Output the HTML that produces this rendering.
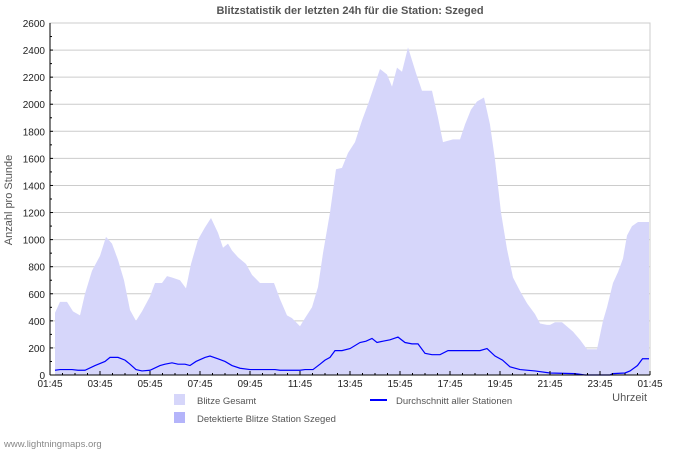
<!DOCTYPE html>
<html><head><meta charset="utf-8"><style>
body{margin:0;background:#fff;}
svg{display:block;font-family:"Liberation Sans","DejaVu Sans",sans-serif;}
</style></head><body>
<svg id="c" width="700" height="450">
<text x="350" y="14" text-anchor="middle" font-size="11" font-weight="bold" fill="#555">Blitzstatistik der letzten 24h für die Station: Szeged</text>
<text transform="translate(12,200) rotate(-90)" text-anchor="middle" font-size="11" fill="#555">Anzahl pro Stunde</text>
<text x="647" y="401" text-anchor="end" font-size="11" fill="#555">Uhrzeit</text>
<g id="grid"></g><g id="series"></g><g id="axes"></g>
<g>
<rect x="174" y="394" width="11" height="11" fill="#d6d6fa"/>
<text x="197" y="404" font-size="9.5" fill="#555">Blitze Gesamt</text>
<rect x="174" y="412" width="11" height="11" fill="#b4b4fa"/>
<text x="197" y="422" font-size="9.5" fill="#555">Detektierte Blitze Station Szeged</text>
<line x1="370" y1="400" x2="387" y2="400" stroke="#00f" stroke-width="2"/>
<text x="396" y="404" font-size="9.5" fill="#555">Durchschnitt aller Stationen</text>
</g>
<text x="4" y="447" font-size="9.5" fill="#888">www.lightningmaps.org</text>
</svg>
<script>
const xTickLabels=["01:45","03:45","05:45","07:45","09:45","11:45","13:45","15:45","17:45","19:45","21:45","23:45","01:45"];
const yTicks=[0,200,400,600,800,1000,1200,1400,1600,1800,2000,2200,2400,2600];
const totalHours=[0.2,0.4,0.68,0.92,1.2,1.4,1.68,2,2.24,2.48,2.72,2.96,3.2,3.44,3.68,4,4.2,4.48,4.68,4.88,5.2,5.44,5.64,5.92,6.2,6.44,6.72,6.92,7.12,7.28,7.52,7.84,8.08,8.4,8.96,9.2,9.48,9.68,10,10.2,10.48,10.72,10.92,11.2,11.44,11.68,11.92,12.2,12.48,12.72,12.96,13.2,13.48,13.68,13.88,14.08,14.32,14.64,14.88,15.28,15.52,15.72,16.12,16.4,16.6,16.84,17.08,17.36,17.6,17.8,18.04,18.28,18.52,18.8,19.08,19.4,19.6,19.88,20,20.2,20.48,20.92,21.2,21.48,21.88,22.12,22.28,22.52,22.72,22.92,23.08,23.28,23.52,23.68,23.96];
const totalValues=[460,540,540,470,440,600,770,880,1020,970,850,700,480,400,470,580,680,680,730,720,700,640,820,1000,1090,1160,1050,940,970,920,870,820,740,680,680,560,440,420,360,420,500,650,900,1200,1520,1530,1640,1720,1880,2000,2130,2260,2220,2130,2270,2240,2420,2230,2100,2100,1900,1720,1740,1740,1850,1960,2020,2050,1850,1590,1200,930,720,620,530,450,380,370,370,390,390,320,260,190,190,400,500,680,760,860,1030,1100,1130,1130,1130];
const avgHours=[0.2,0.4,0.88,1.12,1.4,1.8,2.2,2.4,2.72,3,3.2,3.44,3.68,4,4.4,4.6,4.88,5.12,5.4,5.6,5.84,6.2,6.4,6.72,7,7.28,7.6,8,9,9.2,10,10.2,10.52,10.8,11,11.2,11.4,11.68,12,12.4,12.64,12.88,13.08,13.32,13.6,13.92,14.2,14.48,14.72,15,15.28,15.6,15.92,16.2,16.48,16.8,17.2,17.48,17.8,18.1,18.4,18.8,19.4,20,21,21.4,22.4,22.5,23,23.2,23.5,23.7,23.96];
const avgValues=[35,40,40,35,35,70,100,130,130,110,80,40,30,35,70,80,90,80,80,70,100,130,140,120,100,70,50,40,40,35,35,40,40,80,110,130,180,180,195,240,250,270,240,250,260,280,240,230,230,160,150,150,180,180,180,180,180,195,140,110,60,40,30,15,10,0,0,10,15,30,70,120,120];
const NS="http://www.w3.org/2000/svg";
const X0=50,X1=650,Y0=375,Y1=23;
const xS=h=>X0+h*(X1-X0)/24;
const yS=v=>Y0-v*(Y0-Y1)/2600;
function mk(tag,attrs,parent){const e=document.createElementNS(NS,tag);for(const k in attrs)e.setAttribute(k,attrs[k]);parent.appendChild(e);return e;}
const grid=document.getElementById('grid'),ser=document.getElementById('series'),ax=document.getElementById('axes');
yTicks.forEach(v=>{if(v>0){const l=mk('line',{x1:X0,x2:X1,y1:yS(v),y2:yS(v),stroke:'#ccc'},grid);

}
const t=mk('text',{x:X0-5,y:yS(v)+4,'text-anchor':'end','font-size':'10',fill:'#222'},ax);t.textContent=v;


mk('line',{x1:X0,x2:X0+3,y1:yS(v),y2:yS(v),stroke:'#000'},ax);
if(v<2600)mk('line',{x1:X0,x2:X0+2,y1:yS(v+100),y2:yS(v+100),stroke:'#000'},ax);});
let d='M'+xS(totalHours[0])+','+Y0;
totalHours.forEach((h,i)=>{d+=' L'+xS(h)+','+yS(totalValues[i]);});
d+=' L'+xS(totalHours[totalHours.length-1])+','+Y0+' Z';
const area=mk('path',{d:d,fill:'#d6d6fa'},ser);


const line=mk('polyline',{points:avgHours.map((h,i)=>xS(h)+','+yS(avgValues[i])).join(' '),fill:'none',stroke:'#00f','stroke-width':'1.2'},ser);


mk('rect',{x:X0,y:Y1,width:X1-X0,height:Y0-Y1,fill:'none',stroke:'#ccc'},ax);
mk('line',{x1:X0,x2:X1,y1:Y0,y2:Y0,stroke:'#000'},ax);
mk('line',{x1:X0,x2:X0,y1:Y1,y2:Y0,stroke:'#000'},ax);
for(let k=0;k<=48;k++){const x=xS(k/2);mk('line',{x1:x,x2:x,y1:Y0,y2:Y0-(k%4==0?4:2),stroke:'#000'},ax);}
xTickLabels.forEach((s,i)=>{const t=mk('text',{x:xS(i*2),y:Y0+12,'text-anchor':'middle','font-size':'10',fill:'#222'},ax);t.textContent=s;

});
</script>
</body></html>
